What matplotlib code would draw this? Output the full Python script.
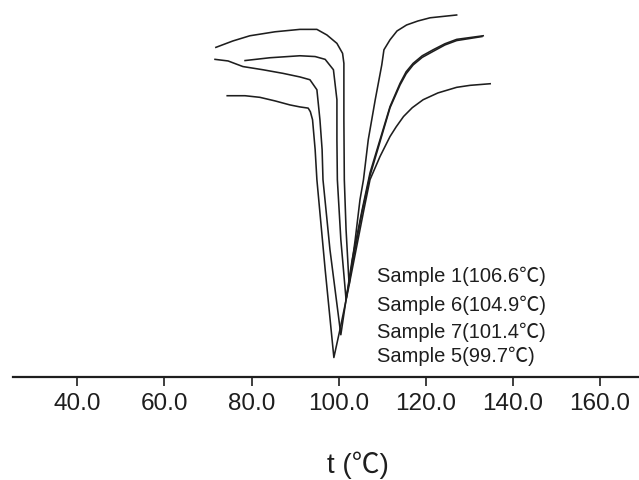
import matplotlib
matplotlib.use("Agg")
import matplotlib.pyplot as plt

plt.rcParams['font.family'] = ['Liberation Sans', 'Noto Sans CJK SC', 'DejaVu Sans']

# DSC traces: temperature (C) and heat flow (arbitrary units)
t_sample1 = [71.8, 75.7, 79.6, 85.4, 91.1, 95.0, 97.3, 99.6, 100.9, 101.2, 101.2, 101.3,
             101.7, 102.4, 103.8, 104.9, 105.7, 106.8, 108.4, 109.9, 110.4, 111.8, 113.4,
             115.6, 118.2, 121.0, 127.1]
h_sample1 = [8.24, 8.40, 8.53, 8.63, 8.69, 8.69, 8.55, 8.34, 8.09, 7.84, 6.43, 4.93,
             3.68, 2.30, 3.43, 4.43, 4.93, 5.93, 6.93, 7.80, 8.18, 8.43, 8.65,
             8.80, 8.90, 8.98, 9.05]

t_sample6 = [78.5, 84.2, 91.1, 94.6, 96.9, 98.8, 99.6, 99.6, 99.7, 100.5, 101.7,
             103.1, 105.4, 107.2, 109.5, 111.8, 114.1, 115.5, 117.1, 119.2, 121.7,
             124.4, 127.1, 133.2]
h_sample6 = [7.91, 7.98, 8.03, 8.01, 7.94, 7.68, 6.93, 5.93, 4.93, 3.43, 1.93,
             2.93, 4.18, 5.10, 5.93, 6.76, 7.34, 7.63, 7.84, 8.03, 8.18,
             8.33, 8.44, 8.53]

t_sample7 = [71.6, 74.6, 78.0, 82.6, 87.2, 91.1, 93.4, 95.0, 95.7, 96.2, 96.4, 98.0, 100.5,
             101.7, 103.3, 105.4, 107.2, 109.5, 111.8, 114.1, 115.5, 117.1, 119.2, 121.7,
             124.4, 127.1, 132.9]
h_sample7 = [7.94, 7.90, 7.76, 7.68, 7.59, 7.50, 7.43, 7.18, 6.43, 5.68, 4.93, 3.18, 1.05,
             1.93, 2.93, 4.13, 5.03, 5.88, 6.73, 7.30, 7.58, 7.80, 7.99, 8.14,
             8.30, 8.41, 8.51]

t_sample5 = [74.4, 78.5, 81.9, 85.4, 88.8, 91.1, 93.0, 93.5, 94.0, 94.6, 95.0, 96.9, 98.9,
             100.3, 102.2, 104.0, 105.8, 107.2, 109.5, 111.8, 113.2, 114.9, 116.9, 119.4,
             122.8, 127.1, 130.2, 134.8]
h_sample5 = [7.03, 7.03, 6.99, 6.90, 6.80, 6.75, 6.72, 6.63, 6.43, 5.68, 4.93, 2.68, 0.48,
             1.18, 2.18, 3.18, 4.18, 4.93, 5.51, 6.01, 6.25, 6.51, 6.73, 6.93,
             7.10, 7.24, 7.29, 7.33]

labels = ['Sample 1(106.6℃)', 'Sample 6(104.9℃)', 'Sample 7(101.4℃)', 'Sample 5(99.7℃)']
label_t = 108.8
label_h = [2.38, 1.65, 0.97, 0.36]

x_ticks = [40, 60, 80, 100, 120, 140, 160]

ink = '#1e1e1e'

fig = plt.figure(figsize=(6.39, 4.8), dpi=100)
ax = fig.add_axes([0.0199, 0.2152, 0.9801, 0.7848])

for t, h in [(t_sample1, h_sample1), (t_sample6, h_sample6),
             (t_sample7, h_sample7), (t_sample5, h_sample5)]:
    ax.plot(t, h, color=ink, lw=1.15, solid_joinstyle='round')

for lab, yy in zip(labels, label_h):
    ax.text(label_t, yy, lab, fontsize=14.5, color=ink, ha='left', va='baseline')

ax.set_xlim(25.14, 168.98)
ax.set_ylim(0, 9.425)

for side in ['top', 'left', 'right']:
    ax.spines[side].set_visible(False)
ax.spines['bottom'].set_linewidth(1.6)
ax.spines['bottom'].set_color(ink)

ax.set_yticks([])
ax.set_xticks(x_ticks)
ax.set_xticklabels(['%.1f' % v for v in x_ticks])
ax.tick_params(axis='x', direction='out', length=6.5, width=1.2, color=ink,
               labelsize=17.5, labelcolor=ink, pad=5)

fig.text(357.5 / 639, 1 - 465 / 480, 't (℃)', fontsize=20, color=ink,
         ha='center', va='center')

plt.savefig('out.png', dpi=100)
